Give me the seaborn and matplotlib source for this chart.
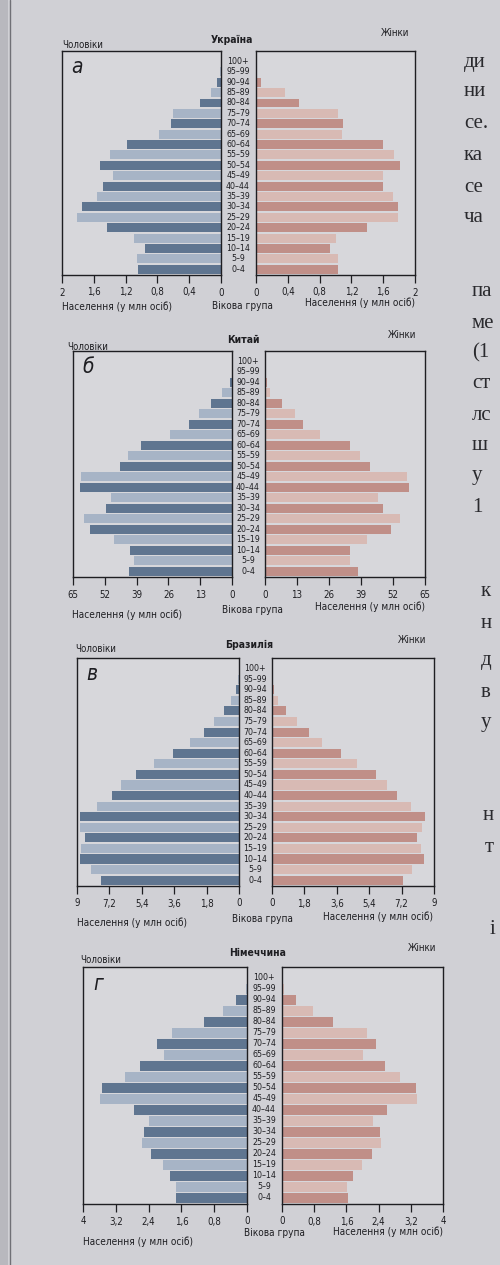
import matplotlib
matplotlib.use("Agg")
import matplotlib.pyplot as plt
import seaborn as sns
import pandas as pd
import numpy as np
from matplotlib.transforms import blended_transform_factory
from matplotlib.patches import Rectangle
from matplotlib.lines import Line2D

# ---------------- data ----------------
ages = ["0–4", "5–9", "10–14", "15–19", "20–24", "25–29", "30–34", "35–39",
        "40–44", "45–49", "50–54", "55–59", "60–64", "65–69", "70–74",
        "75–79", "80–84", "85–89", "90–94", "95–99", "100+"]

titles = ["Україна", "Китай", "Бразилія", "Німеччина"]
letters = ["а", "б", "в", "г"]

ukraine_men = [1.05, 1.06, 0.95, 1.09, 1.44, 1.81, 1.75, 1.56, 1.48, 1.36, 1.52,
               1.40, 1.18, 0.78, 0.63, 0.60, 0.26, 0.13, 0.05, 0.01, 0.0]
ukraine_women = [1.03, 1.03, 0.93, 1.01, 1.39, 1.79, 1.79, 1.72, 1.60, 1.60, 1.81,
                 1.73, 1.60, 1.08, 1.10, 1.03, 0.54, 0.36, 0.06, 0.01, 0.0]

china_men = [42.2, 40.2, 41.5, 48.4, 57.9, 60.6, 51.4, 49.3, 62.3, 61.7, 45.9,
             42.5, 37.2, 25.2, 17.7, 13.4, 8.6, 4.1, 0.7, 0.1, 0.0]
china_women = [37.9, 34.6, 34.6, 41.3, 51.1, 54.9, 48.1, 46.1, 58.3, 57.6, 42.7,
               38.6, 34.6, 22.4, 15.6, 12.2, 6.8, 2.0, 0.7, 0.1, 0.0]

brazil_men = [7.69, 8.25, 8.86, 8.77, 8.53, 8.82, 8.82, 7.87, 7.05, 6.53, 5.75,
              4.70, 3.69, 2.74, 1.96, 1.40, 0.84, 0.47, 0.19, 0.03, 0.0]
brazil_women = [7.27, 7.79, 8.44, 8.26, 8.07, 8.35, 8.50, 7.70, 6.96, 6.40, 5.75,
                4.73, 3.86, 2.78, 2.04, 1.39, 0.78, 0.33, 0.09, 0.02, 0.0]

germany_men = [1.73, 1.73, 1.88, 2.06, 2.33, 2.55, 2.51, 2.38, 2.76, 3.58, 3.53,
               2.98, 2.60, 2.02, 2.20, 1.84, 1.04, 0.59, 0.26, 0.03, 0.0]
germany_women = [1.65, 1.61, 1.77, 1.98, 2.23, 2.45, 2.43, 2.27, 2.61, 3.36, 3.32,
                 2.93, 2.56, 2.02, 2.33, 2.12, 1.26, 0.78, 0.35, 0.05, 0.0]

axis_max = [2, 65, 9, 4]
axis_step = [0.4, 13, 1.8, 0.8]

men_all = [ukraine_men, china_men, brazil_men, germany_men]
women_all = [ukraine_women, china_women, brazil_women, germany_women]

# right-hand page text fragments as visible in the photo
page_text = [("ди", 464, 62), ("ни", 464, 92), ("се.", 464, 123), ("ка", 464, 155),
             ("се", 464, 187), ("ча", 464, 218),
             ("па", 472, 292), ("ме", 472, 323), ("(1", 472, 353), ("ст", 472, 383),
             ("лс", 472, 415), ("ш", 472, 445), ("у", 472, 475), ("1", 472, 507),
             ("к", 481, 592), ("н", 481, 623), ("д", 481, 660), ("в", 481, 693),
             ("у", 481, 723), ("н", 483, 815), ("т", 485, 847), ("і", 490, 930)]

# ---------------- style ----------------
sns.set_style("white")
plt.rcParams["font.family"] = ["DejaVu Sans"]
plt.rcParams["font.stretch"] = "condensed"

BG = "#d0d0d5"
AXBG = "#d7d7db"
MD, ML = "#5f7590", "#a7b4c6"
FD, FL = "#c08f88", "#d8bab4"
INK = "#1e1e22"

W, H = 500, 1265
fig = plt.figure(figsize=(W / 100, H / 100), dpi=100, facecolor=BG)


def px_axes(x0, x1, ytop, ybot):
    return fig.add_axes([x0 / W, 1 - ybot / H, (x1 - x0) / W, (ybot - ytop) / H])


def T(x, y, s, ha="center", va="center", **kw):
    kw.setdefault("color", INK)
    kw.setdefault("fontstretch", "condensed")
    fig.text(x / W, 1 - y / H, s, ha=ha, va=va, **kw)


def fmt(v):
    return f"{v:g}".replace(".", ",")


layout = [
    dict(L=(62, 221), R=(256, 415), top=51, bot=275, mid=238,
         men=(62, 45), title=(232, 40), women=(395, 33), tick_y=292,
         xl_l=(62, 307), vg=(243, 306), xl_r=(360, 303)),
    dict(L=(73, 232), R=(265, 425), top=351, bot=577, mid=248,
         men=(67, 347), title=(243, 340), women=(402, 335), tick_y=593,
         xl_l=(72, 615), vg=(253, 610), xl_r=(370, 607)),
    dict(L=(77, 239), R=(272, 434), top=658, bot=886, mid=255,
         men=(75, 649), title=(249, 645), women=(412, 640), tick_y=902,
         xl_l=(77, 923), vg=(262, 919), xl_r=(378, 917)),
    dict(L=(83, 247), R=(282, 443), top=967, bot=1204, mid=264,
         men=(80, 960), title=(258, 953), women=(422, 948), tick_y=1218,
         xl_l=(83, 1242), vg=(275, 1233), xl_r=(388, 1232)),
]

order = ages[::-1]
shade = ["dark" if i % 2 == 0 else "light" for i in range(len(ages))]

for k in range(4):
    lay = layout[k]
    df = pd.DataFrame({"age": ages, "men": men_all[k], "women": women_all[k],
                       "shade": shade})
    ticks = np.round(np.arange(0, axis_max[k] + 1e-9, axis_step[k]), 3)

    axL = px_axes(lay["L"][0], lay["L"][1], lay["top"], lay["bot"])
    axR = px_axes(lay["R"][0], lay["R"][1], lay["top"], lay["bot"])

    sns.barplot(data=df, x="men", y="age", order=order, hue="shade",
                hue_order=["dark", "light"], palette={"dark": MD, "light": ML},
                dodge=False, legend=False, width=0.86, saturation=1, ax=axL,
                linewidth=0, edgecolor="none")
    sns.barplot(data=df, x="women", y="age", order=order, hue="shade",
                hue_order=["dark", "light"], palette={"dark": FD, "light": FL},
                dodge=False, legend=False, width=0.86, saturation=1, ax=axR,
                linewidth=0, edgecolor="none")

    axL.set_xlim(axis_max[k], 0)
    axR.set_xlim(0, axis_max[k])
    for ax in (axL, axR):
        ax.set_facecolor(AXBG)
        ax.set_ylim(20.55, -1.0)
        ax.set_yticks([])
        ax.set_xlabel("")
        ax.set_ylabel("")
        ax.set_xticks(ticks)
        ax.set_xticklabels([fmt(t) for t in ticks], fontsize=7, color=INK,
                           fontstretch="condensed")
        ax.tick_params(axis="x", direction="out", length=6, width=0.9,
                       pad=3, colors=INK, bottom=True)
        for sp in ax.spines.values():
            sp.set_visible(True)
            sp.set_color(INK)
            sp.set_linewidth(1.0)

    tr = blended_transform_factory(fig.transFigure, axL.transData)
    for i, a in enumerate(order):
        axL.text(lay["mid"] / W, i, a, transform=tr, ha="center", va="center",
                 fontsize=6.3, color=INK, fontstretch="condensed", clip_on=False)

    axL.text(0.06, 0.93, letters[k], transform=axL.transAxes, ha="left",
             va="center", fontsize=15, style="italic", color=INK)

    T(*lay["men"], "Чоловіки", ha="left", fontsize=7)
    T(*lay["title"], titles[k], fontsize=7.5, fontweight="bold")
    T(*lay["women"], "Жінки", fontsize=7)
    T(*lay["xl_l"], "Населення (у млн осіб)", ha="left", fontsize=7.2)
    T(*lay["vg"], "Вікова група", fontsize=7.2)
    T(*lay["xl_r"], "Населення (у млн осіб)", fontsize=7.2)

fig.add_artist(Rectangle((0, 0), 8 / W, 1, transform=fig.transFigure,
                         facecolor="#b8b8be", edgecolor="none", zorder=0))
fig.add_artist(Line2D([10 / W, 10 / W], [0, 1], transform=fig.transFigure,
                      color="#707076", lw=1.0))
for s, x, y in page_text:
    fig.text(x / W, 1 - y / H, s, ha="left", va="center", fontsize=15,
             family=["Liberation Serif", "DejaVu Serif"], color="#2a2a2e")

fig.savefig("out.png", dpi=100, facecolor=BG)
